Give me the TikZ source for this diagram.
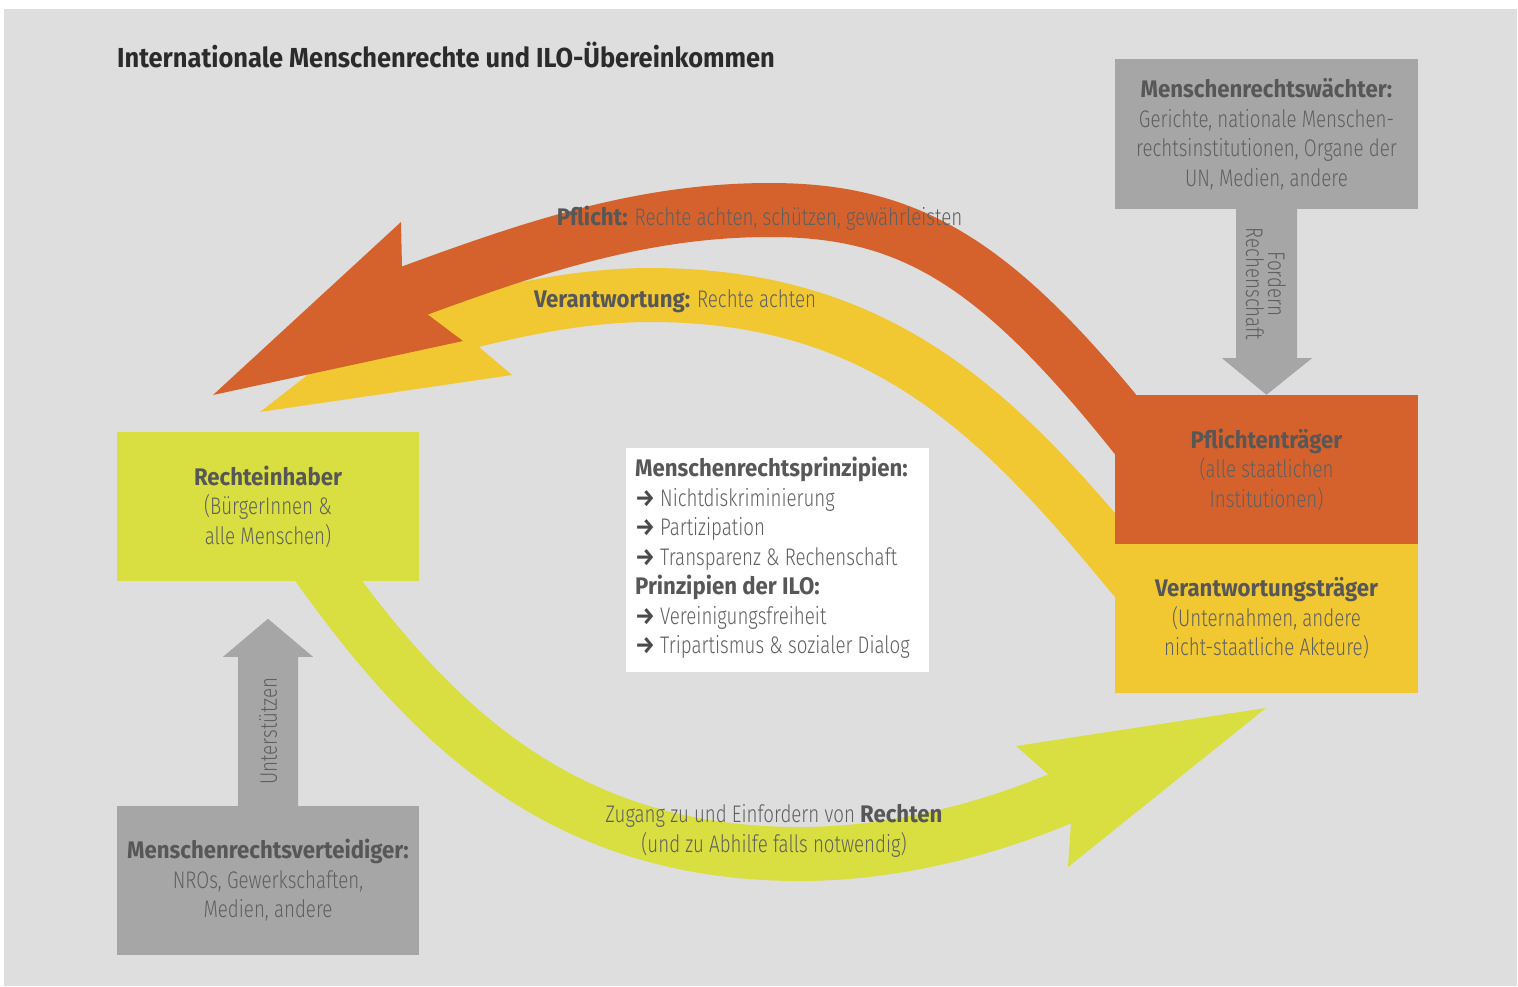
\documentclass[tikz,border=0pt]{standalone}
\usepackage{fontspec}
\setmainfont{Fira Sans}[UprightFont={* Light},BoldFont={* Bold},UprightFeatures={FakeStretch=0.78},BoldFeatures={FakeStretch=0.925}]
\usetikzlibrary{calc}
\definecolor{bgc}{HTML}{DEDEDE}
\definecolor{boxgray}{HTML}{A6A6A6}
\definecolor{lime}{HTML}{D9DF40}
\definecolor{orng}{HTML}{D5622D}
\definecolor{yell}{HTML}{F2C832}
\definecolor{txt}{HTML}{575757}
\definecolor{ltg}{HTML}{606060}
\definecolor{ttl}{HTML}{2B2B2B}
\definecolor{arrc}{HTML}{4A4A4A}
\newcommand\bodyfnt{\fontsize{24}{29.5}\selectfont}
\newcommand\titlefnt{\fontsize{27.5}{34}\selectfont\bfseries}
\newcommand\arr{{\bfseries\color{arrc}→}\hspace{5pt}}
\begin{document}
\begin{tikzpicture}[x=1pt,y=-1pt,
  box/.style={minimum height=149, inner sep=0, align=center, font=\bodyfnt, text=txt},
  band/.style={line width=54, line cap=butt},
  lbl/.style={inner sep=0, font=\bodyfnt, text=txt},
  grayarrow/.style={fill=boxgray}]
\useasboundingbox (0,0) rectangle (1518,986);
\fill[white] (0,0) rectangle (1518,986);
\fill[bgc] (4,9) rectangle (1517,986);

% yellow band (Verantwortung)
\draw[band, yell] (463,323) .. controls (525,307.5) and (588,295) .. (650,295)
  .. controls (870,295) and (987,401) .. (1115,555) -- (1160,609);
\fill[yell] (260,412) -- (458,258) -- (466,296) -- (479,347) -- (512,375) -- cycle;
% orange band (Pflicht)
\draw[band, orng] (400,296) .. controls (530,248) and (640,210) .. (770,210)
  .. controls (920,210) and (1007.5,270.5) .. (1160,468);
\fill[orng] (213,395) -- (401,222) -- (402,267) -- (427,314) -- (463,341) -- cycle;
% green band (Zugang)
\draw[band, lime] (305,548) .. controls (419.6,711.8) and (550,854) .. (800,854)
  .. controls (890,854) and (989,831) .. (1080,790);
\fill[lime] (1266,708) -- (1016,746) -- (1049,775) -- (1071,823) -- (1068,867) -- cycle;

% boxes
\node[box, minimum width=302, fill=lime] (rh) at (268,506.5)
  {\textbf{Rechteinhaber}\\{\color{ltg}(BürgerInnen \&}\\{\color{ltg}alle Menschen)}};
\node[box, minimum width=302, fill=boxgray] (mv) at (268,880.5)
  {\textbf{Menschenrechtsverteidiger:}\\{\color{ltg}NROs, Gewerkschaften,}\\{\color{ltg}Medien, andere}};
\node[box, minimum width=303, minimum height=150, fill=boxgray] (mw) at (1266.5,134)
  {\textbf{Menschenrechtswächter:}\\{\color{ltg}Gerichte, nationale Menschen-}\\{\color{ltg}rechtsinstitutionen, Organe der}\\{\color{ltg}UN, Medien, andere}};
\node[box, minimum width=303, fill=orng] (pt) at (1266.5,469.5)
  {\textbf{Pflichtenträger}\\{\color{ltg}(alle staatlichen}\\{\color{ltg}Institutionen)}};
\node[box, minimum width=303, fill=yell] (vt) at (1266.5,618.5)
  {\textbf{Verantwortungsträger}\\{\color{ltg}(Unternahmen, andere}\\{\color{ltg}nicht-staatliche Akteure)}};
\node[fill=white, minimum width=303, minimum height=224, inner sep=0] (pr) at (777.5,560) {};
\node[anchor=north west, inner sep=0, align=left, font=\bodyfnt, text=ltg] (prt) at (635,457)
  {\textbf{\color{txt}Menschenrechtsprinzipien:}\\\arr Nichtdiskriminierung\\\arr Partizipation\\\arr Transparenz \& Rechenschaft\\\textbf{\color{txt}Prinzipien der ILO:}\\\arr Vereinigungsfreiheit\\\arr Tripartismus \& sozialer Dialog};

% gray arrows
\fill[grayarrow] ($(mw.south)+(-30.5,-2)$) -- ($(mw.south)+(30.5,-2)$) -- ($(mw.south)+(30.5,149)$) -- ($(mw.south)+(45.5,149)$) -- (pt.north) -- ($(mw.south)+(-44.5,149)$) -- ($(mw.south)+(-30.5,149)$) -- cycle;
\fill[grayarrow] ($(mv.north)+(-30,2)$) -- ($(mv.north)+(-30,-149)$) -- ($(mv.north)+(-45,-149)$) -- ($(mv.north)+(0,-187)$) -- ($(mv.north)+(45,-149)$) -- ($(mv.north)+(30,-149)$) -- ($(mv.north)+(30,2)$) -- cycle;

% labels
\node[anchor=base west, inner sep=0, font=\titlefnt, text=ttl] (title) at (117,67) {Internationale Menschenrechte und ILO-Übereinkommen};
\node[lbl, anchor=base] (pfl) at (759.5,225) {\textbf{Pflicht:} {\color{ltg}Rechte achten, schützen, gewährleisten}};
\node[lbl, anchor=base] (ver) at (675,307) {\textbf{Verantwortung:} {\color{ltg}Rechte achten}};
\node[lbl, align=center] (zug) at (774,831) {{\color{ltg}Zugang zu und Einfordern von} \textbf{Rechten}\\{\color{ltg}(und zu Abhilfe falls notwendig)}};
\node[lbl, rotate=-90, align=center, font=\fontsize{24}{22}\selectfont, text=ltg] (ford) at (1266,284) {Fordern\\Rechenschaft};
\node[lbl, rotate=90, text=ltg] (unt) at (268,731) {Unterstützen};
\end{tikzpicture}
\end{document}
